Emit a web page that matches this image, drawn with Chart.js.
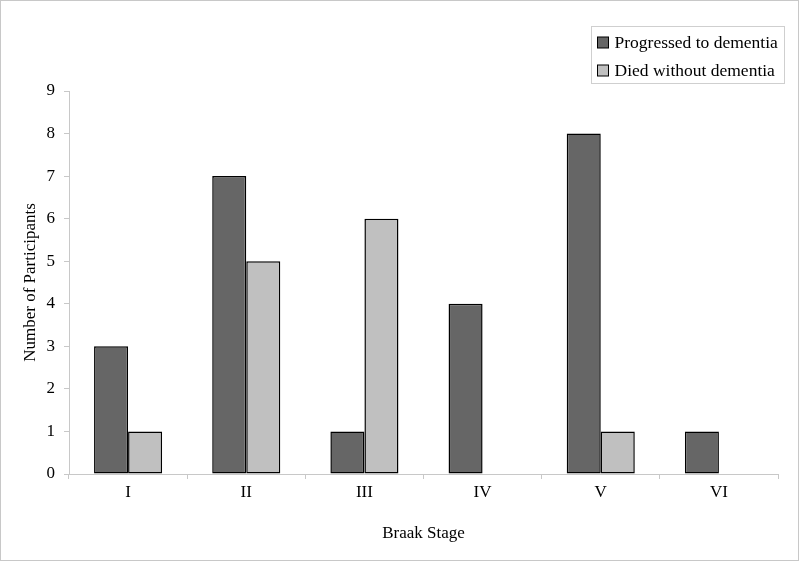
<!DOCTYPE html>
<html><head><meta charset="utf-8">
<script src="https://cdn.jsdelivr.net/npm/chart.js@4"></script>
<style>html,body{margin:0;padding:0;background:#fff}#wrap{width:800px;height:561px;position:relative}</style>
</head><body><div id="wrap"><canvas id="c" width="800" height="561"></canvas></div>
<script>
const categories = ['I','II','III','IV','V','VI'];
const progressed = [3,7,1,4,8,1];
const diedWithout = [1,5,6,0,1,0];
const seriesNames = ['Progressed to dementia','Died without dementia'];
const yTicks = [0,1,2,3,4,5,6,7,8,9];

const FONT = 'Liberation Serif, Times New Roman, serif';

const frame = {
  id:'frame',
  afterDraw(chart){
    const ctx = chart.ctx;
    ctx.save();
    ctx.strokeStyle = '#c8c8c8';
    ctx.lineWidth = 1;
    ctx.strokeRect(0.5,0.5,chart.width-2,chart.height-1);
    // legend
    const x0=591.5,y0=26.5,w=193,h=57;
    ctx.strokeStyle='#cfcfcf';
    ctx.strokeRect(x0,y0,w,h);
    ctx.font = '17.5px '+FONT;
    ctx.textBaseline='middle';
    chart.data.datasets.forEach((ds,i)=>{
      const cy = y0+16.5+i*28;
      ctx.fillStyle = ds.backgroundColor;
      ctx.fillRect(x0+6,cy-6,11,11);
      ctx.strokeStyle='#000';
      ctx.strokeRect(x0+6,cy-6,11,11);
      ctx.fillStyle='#000';
      ctx.fillText(ds.label,x0+23,cy);
    });
    ctx.restore();
  }
};

new Chart(document.getElementById('c'),{
  type:'bar',
  data:{
    labels:categories,
    datasets:[
      {label:seriesNames[0],data:progressed,backgroundColor:'#666666',borderColor:'#000',borderWidth:1.5,borderSkipped:false,barPercentage:1,categoryPercentage:0.576},
      {label:seriesNames[1],data:diedWithout,backgroundColor:'#c0c0c0',borderColor:'#000',borderWidth:1.5,borderSkipped:false,barPercentage:1,categoryPercentage:0.576}
    ]
  },
  options:{
    responsive:false,animation:false,
    layout:{padding:{top:91,right:22,left:0,bottom:0}},
    plugins:{legend:{display:false},tooltip:{enabled:false}},
    scales:{
      x:{
        grid:{display:true,drawOnChartArea:false,drawTicks:true,tickLength:5,color:'#c8c8c8',offset:true},
        border:{color:'#c8c8c8'},
        ticks:{color:'#000',font:{family:FONT,size:17},padding:3},
        title:{display:true,text:'Braak Stage',color:'#000',font:{family:FONT,size:17},padding:{top:8,bottom:17}},
        afterFit(s){s.height=87;}
      },
      y:{
        min:0,max:9,
        afterBuildTicks(s){s.ticks=yTicks.map(v=>({value:v}));},
        grid:{display:true,drawOnChartArea:false,drawTicks:true,tickLength:5,color:'#c8c8c8'},
        border:{color:'#c8c8c8'},
        ticks:{color:'#000',font:{family:FONT,size:17},padding:9},
        title:{display:true,text:'Number of Participants',color:'#000',font:{family:FONT,size:17},padding:{top:20,bottom:0}},
        afterFit(s){s.width=69;}
      }
    }
  },
  plugins:[frame]
});
</script></body></html>
